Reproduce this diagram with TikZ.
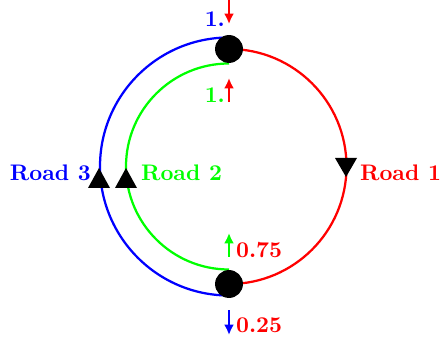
\documentclass[tikz,border=0pt]{standalone}
\usetikzlibrary{arrows.meta}

\begin{document}
\begin{tikzpicture}[x=0.4444pt, y=0.4444pt, >=Latex, line width=1pt,
  junction/.style={circle, fill=black, inner sep=0pt, minimum size=12.4pt},
  flow/.style={->, >={Latex[length=4.6pt, width=4.4pt]}},
  lbl/.style={font=\bfseries, inner sep=0pt}]

  \useasboundingbox (-229,-178.5) rectangle (211,166.5);

  % Junctions sit on the ring, top and bottom.
  \coordinate (top) at (0,117.5);
  \coordinate (bot) at (0,-117.5);

  % The three roads between the two junctions.
  \draw[red]   (top) arc[start angle=90, end angle=-90, radius=117.5];
  \draw[blue]  (0,129) arc[start angle=90, end angle=270, radius=129];
  \draw[green] (0,103) arc[start angle=90, end angle=270, radius=103];

  % Direction of travel on each road.
  \fill (106,8.5) -- (128,8.5) -- (117,-10.5) -- cycle;
  \foreach \x in {-130,-103} {
    \fill (\x-11,-21.5) -- (\x+11,-21.5) -- (\x,-1.5) -- cycle;
  }

  \node[junction] (j1) at (top) {};
  \node[junction] (j2) at (bot) {};

  \node[lbl, red,   anchor=west] (r1) at (130,-6.5)  {Road 1};
  \node[lbl, green, anchor=west] (r2) at (-89,-6.5)  {Road 2};
  \node[lbl, blue,  anchor=east] (r3) at (-137,-6.5) {Road 3};

  % Incoming and outgoing flows at the junctions.
  \coordinate (in1)  at (0,166.5);
  \coordinate (in2)  at (0,64.5);
  \coordinate (out1) at (0,-66.5);
  \coordinate (out2) at (0,-168.5);
  \draw[flow, red,   shorten >=4.4pt] (in1) -- (j1);
  \draw[flow, red,   shorten >=6.2pt] (in2) -- (j1);
  \draw[flow, green, shorten <=5.3pt] (j2) -- (out1);
  \draw[flow, blue,  shorten <=4.9pt] (j2) -- (out2);

  \node[lbl, blue,  anchor=east] (a1) at (-3,147.5) {1.};
  \node[lbl, green, anchor=east] (a2) at (-3,71.5)  {1.};
  \node[lbl, red,   anchor=west] (b1) at (6,-84)    {0.75};
  \node[lbl, red,   anchor=west] (b2) at (6,-159)   {0.25};

\end{tikzpicture}
\end{document}
